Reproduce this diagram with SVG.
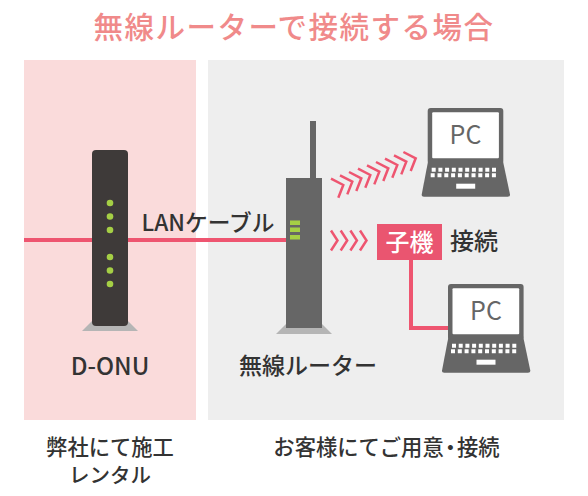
<svg xmlns="http://www.w3.org/2000/svg" width="588" height="496" viewBox="0 0 588 496">
<style>
text{font-family:"Noto Sans CJK JP","Noto Sans",sans-serif;font-weight:500;fill:#333}
.c{text-anchor:middle}
.pc{font-size:25px;fill:#666;font-weight:400;text-anchor:middle}
.w{fill:none;stroke:#ee5570;stroke-width:2.500}
.lap{fill:#666}
.led{fill:#a5cf45}
.conn{fill:none;stroke:#ee5570;stroke-width:4}
</style>
<defs>
<path id="chev" d="M0 0L6.500 10L0 20" class="w"/>
<path id="chevd" d="M-12.300 -6.300L0 0L-5 12.700" class="w"/>
<g id="laptop">
<rect x="0" y="0" width="75.600" height="56" rx="3" class="lap"/>
<path class="lap" d="M1 50H74.600L82.300 86.500Q82.600 88.700 80 88.700H-3.800Q-6.300 88.700 -6 86.500Z"/>
<rect x="4.500" y="4.300" width="66.700" height="46" rx="1" fill="#fff"/>
<path fill="#fff" d="M4 59.700h4v4h-4zM10.700 59.700h4v4h-4zM17.400 59.700h4v4h-4zM24.100 59.700h4v4h-4zM30.800 59.700h4v4h-4zM37.500 59.700h4v4h-4zM44.200 59.700h4v4h-4zM50.900 59.700h4v4h-4zM57.600 59.700h4v4h-4zM64.300 59.700h4v4h-4zM3 65.200h4v4h-4zM9.800 65.200h4v4h-4zM16.600 65.200h4v4h-4zM23.400 65.200h4v4h-4zM30.200 65.200h4v4h-4zM37 65.200h4v4h-4zM43.800 65.200h4v4h-4zM50.600 65.200h4v4h-4zM57.400 65.200h4v4h-4zM64.200 65.200h4v4h-4z"/>
<rect x="28.500" y="75.700" width="19" height="5" fill="#fff"/>
</g>
</defs>
<rect x="0" y="0" width="588" height="496" fill="#fff"/>
<text class="c" x="294" y="38" font-size="29.500" letter-spacing="1.500" style="fill:#f08a8a">無線ルーターで接続する場合</text>
<rect x="24" y="60" width="172" height="360" fill="#fadbdb"/>
<rect x="208" y="60" width="356" height="360" fill="#eee"/>
<g id="connectors">
<path class="conn" d="M24 240H286"/>
<path class="conn" d="M411 260V328H448"/>
</g>
<g id="onu">
<path d="M92 321L82 331H138L128 321Z" fill="#b5b5b5"/>
<rect x="92" y="150" width="36" height="176" rx="4" fill="#3e3a39"/>
<circle class="led" cx="110" cy="203" r="3.300"/>
<circle class="led" cx="110" cy="216.500" r="3.300"/>
<circle class="led" cx="110" cy="230" r="3.300"/>
<circle class="led" cx="110" cy="257" r="3.300"/>
<circle class="led" cx="110" cy="270.500" r="3.300"/>
<circle class="led" cx="110" cy="284" r="3.300"/>
<text class="c" x="110" y="375" font-size="24">D-ONU</text>
</g>
<g id="router">
<rect x="310" y="121" width="6" height="58" fill="#666"/>
<path d="M286 324L276 334H332L322 324Z" fill="#b5b5b5"/>
<rect x="286" y="178" width="36" height="150" fill="#666"/>
<rect class="led" x="290" y="220.500" width="10" height="4.500"/>
<rect class="led" x="290" y="227.500" width="10" height="4.500"/>
<rect class="led" x="290" y="235" width="10" height="4.500"/>
<text class="c" x="308" y="374" font-size="23">無線ルーター</text>
</g>
<g id="lan-label"><text class="c" x="208" y="231" font-size="22.700">LANケーブル</text></g>
<g id="wave-up">
<use href="#chevd" x="343.300" y="185"/><use href="#chevd" x="352.300" y="181.700"/><use href="#chevd" x="361.300" y="178.300"/><use href="#chevd" x="370.300" y="175"/><use href="#chevd" x="379.300" y="171.700"/><use href="#chevd" x="388.300" y="168.300"/><use href="#chevd" x="397.300" y="165"/><use href="#chevd" x="406.300" y="161.700"/><use href="#chevd" x="415.700" y="158.300"/>
</g>
<g id="wave-right">
<use href="#chev" x="331" y="230.500"/><use href="#chev" x="340.700" y="230.500"/><use href="#chev" x="350.400" y="230.500"/><use href="#chev" x="360" y="230.500"/>
</g>
<g id="pc1"><use href="#laptop" x="427.700" y="108"/><text class="pc" x="465.500" y="144">PC</text></g>
<g id="pc2"><use href="#laptop" x="448" y="284"/><text class="pc" x="486" y="320">PC</text></g>
<g id="child">
<rect x="377" y="224" width="65" height="36" fill="#ea5570"/>
<text class="c" x="409.500" y="251" font-size="24" style="fill:#fff">子機</text>
<text class="c" x="474" y="250" font-size="24">接続</text>
</g>
<text class="c" x="110" y="455" font-size="21.300">弊社にて施工</text>
<text class="c" x="110" y="483" font-size="20.500">レンタル</text>
<text class="c" x="386.500" y="455" font-size="21.300">お客様にてご用<tspan letter-spacing="-4">意</tspan><tspan letter-spacing="-4">・</tspan>接続</text>
</svg>
